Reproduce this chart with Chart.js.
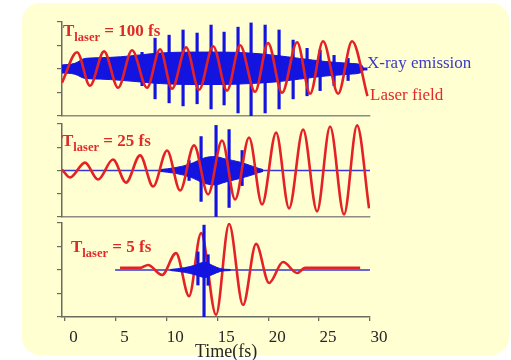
<!DOCTYPE html>
<html>
<head>
<meta charset="utf-8">
<script src="https://cdn.jsdelivr.net/npm/chart.js@4.4.1/dist/chart.umd.min.js"></script>
<style>
html, body { margin:0; padding:0; }
body { width:511px; height:360px; overflow:hidden; position:relative; background:#ffffff; font-family:"Liberation Serif","Times New Roman",serif; }
#board { position:absolute; left:22px; top:3px; width:487px; height:352px; border-radius:18px; background:#ffffd2; }
canvas { position:absolute; left:0; }
.lbl { position:absolute; line-height:1; white-space:nowrap; }
.tl { font-weight:bold; font-size:17px; color:#e02a2a; }
.tl span { font-size:12.5px; position:relative; top:5px; }
</style>
</head>
<body>
<div id="board"></div>
<canvas id="panel1" width="511" height="120" style="top:0px"></canvas>
<canvas id="panel2" width="511" height="104" style="top:118px"></canvas>
<canvas id="panel3" width="511" height="142" style="top:218px"></canvas>

<div class="lbl tl" style="left:63px; top:22px">T<span>laser</span> = 100 fs</div>
<div class="lbl tl" style="left:62px; top:132px">T<span>laser</span> = 25 fs</div>
<div class="lbl tl" style="left:71px; top:238px">T<span>laser</span> = 5 fs</div>
<div class="lbl" style="left:367px; top:54px; font-size:17px; color:#3a3ac6">X-ray emission</div>
<div class="lbl" style="left:370px; top:86px; font-size:17px; color:#e02a2a">Laser field</div>
<div class="lbl" style="left:195px; top:342px; font-size:18px; color:#262626">Time(fs)</div>

<script>
const SERIF = '"Liberation Serif", "Times New Roman", serif';
const RED = '#e42226';
const BLUE = '#1414e0';
const BASE_BLUE = '#3636d0';
const AXIS_COLOR = '#6b6b5e';
const PANEL_LINE = '#8c8c84';

const X_MIN = -0.25;
const X_MAX = 30;
const timeTicks = [0, 5, 10, 15, 20, 25, 30];
const levelTicks = [-2, -1, 0, 1, 2];

//panel 1, T laser = 100 fs
const laser100Time = [-0.25, 1.23, 2.50, 3.88, 5.26, 6.63, 8.10, 9.38, 10.56, 11.94, 13.21, 14.59, 15.96, 17.24, 18.71, 19.99, 21.36, 22.84, 24.12, 25.39, 26.87, 28.24, 29.75];
const laser100Field = [-0.58, 0.71, -0.71, 0.75, -0.80, 0.80, -0.80, 0.84, -0.84, 0.92, -0.88, 0.97, -0.92, 1.01, -0.97, 1.10, -1.01, 1.14, -1.05, 1.18, -1.05, 1.18, -1.15];

const xray100BandTime = [-0.25, 1.0, 2.0, 3.5, 5.5, 7.4, 9.4, 12.3, 15.3, 18.2, 20.7, 23.1, 25.6, 28.0, 29.2, 29.4, 29.75];
const xray100BandTop = [0.17, 0.24, 0.45, 0.48, 0.52, 0.60, 0.68, 0.72, 0.72, 0.68, 0.58, 0.45, 0.32, 0.24, 0.16, 0.04, 0.04];
const xray100BandBottom = [-0.17, -0.22, -0.40, -0.43, -0.48, -0.55, -0.62, -0.66, -0.66, -0.62, -0.55, -0.43, -0.30, -0.22, -0.14, -0.04, -0.04];

const xray100SpikeTime = [7.61, 8.89, 10.27, 11.64, 13.02, 14.39, 15.67, 17.04, 18.32, 19.70, 21.07, 22.45, 23.82, 25.10, 26.47, 27.85];
const xray100SpikeTop = [0.71, 1.31, 1.44, 1.66, 1.53, 1.87, 1.57, 1.78, 1.96, 1.87, 1.66, 1.23, 0.88, 0.80, 0.58, 0.45];
const xray100SpikeBottom = [-0.71, -1.27, -1.44, -1.57, -1.48, -1.70, -1.53, -1.87, -2.0, -1.87, -1.70, -1.27, -1.14, -0.92, -0.71, -0.49];

//panel 2, T laser = 25 fs
const laser25Time = [-0.25, 0.54, 2.01, 3.29, 4.76, 6.04, 7.42, 8.70, 10.07, 11.35, 12.72, 14.10, 15.47, 16.75, 18.12, 19.40, 20.78, 22.05, 23.43, 24.80, 26.08, 27.45, 28.73, 29.91];
const laser25Field = [0.04, -0.30, 0.34, -0.39, 0.47, -0.52, 0.65, -0.69, 0.86, -0.86, 1.08, -1.03, 1.29, -1.25, 1.42, -1.46, 1.63, -1.63, 1.76, -1.76, 1.89, -1.89, 1.94, -1.63];

const xray25BaseTime = [-0.25, 30];
const xray25BaseValue = [0, 0];
const xray25BandTime = [9.4, 10.85, 12.33, 13.8, 14.78, 15.77, 17.24, 18.22, 19.0, 19.5];
const xray25BandTop = [0.04, 0.12, 0.28, 0.55, 0.60, 0.50, 0.36, 0.22, 0.10, 0.04];
const xray25BandBottom = [-0.04, -0.12, -0.28, -0.56, -0.62, -0.50, -0.34, -0.22, -0.10, -0.04];
const xray25SpikeTime = [12.23, 13.41, 14.88, 16.16, 17.44];
const xray25SpikeTop = [0.43, 1.46, 1.94, 1.76, 0.86];
const xray25SpikeBottom = [-0.43, -1.33, -1.98, -1.59, -0.65];

//panel 3, T laser = 5 fs
const laser5Time = [5.45, 7.42, 8.20, 9.58, 10.95, 12.23, 13.41, 14.88, 16.16, 17.53, 18.81, 20.09, 21.46, 22.84, 23.62, 29.03];
const laser5Field = [0.09, 0.09, 0.21, -0.21, 0.72, -1.11, 1.57, -1.91, 1.96, -1.49, 1.11, -0.55, 0.34, -0.13, 0.09, 0.09];

const xray5BaseTime = [4.96, 30];
const xray5BaseValue = [0, 0];
const xray5BandTime = [10.4, 11.8, 12.8, 13.8, 14.5, 15.3, 16.3];
const xray5BandTop = [0.02, 0.10, 0.20, 0.34, 0.20, 0.06, 0.02];
const xray5BandBottom = [-0.02, -0.10, -0.20, -0.32, -0.20, -0.06, -0.02];
const xray5SpikeTime = [13.1, 13.7, 14.1];
const xray5SpikeTop = [0.77, 1.91, 0.65];
const xray5SpikeBottom = [-0.64, -2.0, -0.65];

/**********/
function toPoints(times, values)
{
    let points = [];

    for(let i=0; i<times.length; i++)
    {
        points.push({ x: times[i], y: values[i] });
    }

    return points;
}

/**********/
function toRanges(times, bottoms, tops)
{
    let ranges = [];

    for(let i=0; i<times.length; i++)
    {
        ranges.push({ x: times[i], y: [bottoms[i], tops[i]] });
    }

    return ranges;
}

/**********/
function laserDataset(times, values, order)
{
    return { type: 'line', data: toPoints(times, values), borderColor: RED, borderWidth: 2.6,
             cubicInterpolationMode: 'monotone', pointRadius: 0, fill: false, order: order };
}

/**********/
function bandDatasets(times, tops, bottoms, order)
{
    //upper edge first, lower edge fills back to it
    let upper = { type: 'line', data: toPoints(times, tops), borderColor: BLUE, borderWidth: 1,
                  cubicInterpolationMode: 'monotone', pointRadius: 0, fill: false, order: order };

    let lower = { type: 'line', data: toPoints(times, bottoms), borderColor: BLUE, borderWidth: 1,
                  cubicInterpolationMode: 'monotone', pointRadius: 0, fill: '-1',
                  backgroundColor: BLUE, order: order };

    return [upper, lower];
}

/**********/
function spikeDataset(times, bottoms, tops, order)
{
    return { type: 'bar', data: toRanges(times, bottoms, tops), backgroundColor: BLUE,
             borderWidth: 0, barThickness: 2.5, order: order };
}

/**********/
function baseDataset(times, values, order)
{
    return { type: 'line', data: toPoints(times, values), borderColor: BASE_BLUE, borderWidth: 1.6,
             pointRadius: 0, fill: false, order: order };
}

/**********/
function panelScales(showTime)
{
    return {
        x:
        {
            type: 'linear', min: X_MIN, max: X_MAX, offset: false,
            afterBuildTicks: function(scale) { scale.ticks = timeTicks.map(v => ({ value: v })); },
            afterFit: function(scale) { scale.height = showTime ? 43 : 0; },
            grid: { offset: false, drawOnChartArea: false, drawTicks: showTime, tickLength: 4, color: AXIS_COLOR, lineWidth: 1.3 },
            border: { color: showTime ? AXIS_COLOR : PANEL_LINE, width: 1.5 },
            ticks: { display: showTime, autoSkip: false, maxRotation: 0, labelOffset: 9, padding: 6,
                     color: '#262626', font: { family: SERIF, size: 17 } }
        },
        y:
        {
            type: 'linear', min: -2, max: 2,
            afterBuildTicks: function(scale) { scale.ticks = levelTicks.map(v => ({ value: v })); },
            grid: { drawOnChartArea: false, drawTicks: true, tickLength: 5, color: AXIS_COLOR, lineWidth: 1.2 },
            border: { color: AXIS_COLOR, width: 1.5 },
            ticks: { display: false }
        }
    };
}

/**********/
function drawPanel(id, datasets, padding, showTime)
{
    const ctx = document.getElementById(id);

    return new Chart(ctx,
    {
        type: 'line',
        data: { datasets: datasets },
        options:
        {
            responsive: false,
            animation: false,
            devicePixelRatio: 1,
            events: [],
            layout: { padding: padding },
            plugins: { legend: { display: false }, tooltip: { enabled: false } },
            scales: panelScales(showTime)
        }
    });
}

//panel 1: red drawn above the blue emission
let sets1 = [ laserDataset(laser100Time, laser100Field, 0),
              spikeDataset(xray100SpikeTime, xray100SpikeBottom, xray100SpikeTop, 1) ]
            .concat(bandDatasets(xray100BandTime, xray100BandTop, xray100BandBottom, 2));
drawPanel("panel1", sets1, { left: 57, right: 141, top: 22, bottom: 4 }, false);

//panel 2
let sets2 = [ laserDataset(laser25Time, laser25Field, 0),
              spikeDataset(xray25SpikeTime, xray25SpikeBottom, xray25SpikeTop, 1) ]
            .concat(bandDatasets(xray25BandTime, xray25BandTop, xray25BandBottom, 2))
            .concat([ baseDataset(xray25BaseTime, xray25BaseValue, 3) ]);
drawPanel("panel2", sets2, { left: 57, right: 141, top: 6, bottom: 5 }, false);

//panel 3: the single burst sits on top of the field
let sets3 = [ spikeDataset(xray5SpikeTime, xray5SpikeBottom, xray5SpikeTop, 0) ]
            .concat(bandDatasets(xray5BandTime, xray5BandTop, xray5BandBottom, 1))
            .concat([ laserDataset(laser5Time, laser5Field, 2),
                      baseDataset(xray5BaseTime, xray5BaseValue, 3) ]);
drawPanel("panel3", sets3, { left: 57, right: 141, top: 5, bottom: 0 }, true);
</script>
</body>
</html>
